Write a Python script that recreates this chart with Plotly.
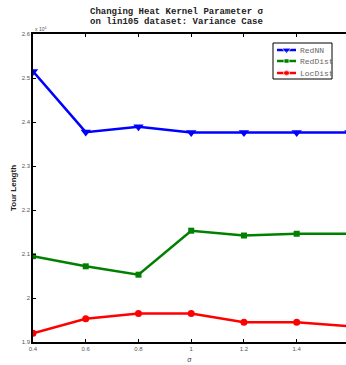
import plotly.graph_objects as go

# Heat kernel parameter sigma and tour lengths (units of 10^4)
sigma = [0.4, 0.6, 0.8, 1.0, 1.2, 1.4, 1.6]
red_nn = [2.515, 2.377, 2.389, 2.376, 2.376, 2.376, 2.376]
red_dist = [2.095, 2.072, 2.053, 2.153, 2.142, 2.146, 2.146]
loc_dist = [1.920, 1.953, 1.965, 1.965, 1.945, 1.945, 1.936]

y_ticks = [1.9, 2.0, 2.1, 2.2, 2.3, 2.4, 2.5, 2.6]
y_tick_text = ["1.9", "2", "2.1", "2.2", "2.3", "2.4", "2.5", "2.6"]
x_ticks = [0.4, 0.6, 0.8, 1.0, 1.2, 1.4, 1.6]
x_tick_text = ["0.4", "0.6", "0.8", "1", "1.2", "1.4", "1.6"]

series = [
    ("RedNN", red_nn, "#0000FF", "triangle-down", 9),
    ("RedDist", red_dist, "#008000", "square", 6),
    ("LocDist", loc_dist, "#FF0000", "circle", 7),
]

W, H = 346, 365
L, R, T, B = 33, 0, 34, 23

fig = go.Figure()
for name, vals, color, symbol, msize in series:
    fig.add_trace(go.Scatter(
        x=sigma, y=vals, name=name, mode="lines+markers",
        line=dict(color=color, width=2.5),
        marker=dict(symbol=symbol, size=msize, color=color),
        showlegend=False,
    ))

# Compact legend box drawn on a pixel-space overlay axis
box_x0, box_x1, box_y0, box_y1 = 273, 332, 43, 79
row_y = [50, 61, 73]
for (name, _, color, symbol, msize), yy in zip(series, row_y):
    fig.add_trace(go.Scatter(
        x=[277, 286.5, 296], y=[yy, yy, yy], xaxis="x2", yaxis="y2",
        mode="lines+markers", line=dict(color=color, width=2.5),
        marker=dict(symbol=symbol, size=[0, msize - 1, 0], color=color),
        showlegend=False, hoverinfo="skip",
    ))
    fig.add_annotation(
        text=name, xref="x2", yref="y2", x=298, y=yy,
        xanchor="left", yanchor="middle", showarrow=False,
        font=dict(family="Liberation Mono", size=8, color="#666666"),
    )
fig.add_shape(type="rect", xref="x2", yref="y2",
              x0=box_x0, x1=box_x1, y0=box_y0, y1=box_y1,
              line=dict(color="black", width=1), fillcolor="rgba(255,255,255,0)",
              layer="above")

tick_font = dict(family="Liberation Sans", size=6, color="#555555")

fig.update_layout(
    width=W, height=H,
    margin=dict(l=L, r=R, t=T, b=B),
    paper_bgcolor="white", plot_bgcolor="white",
    showlegend=False,
    xaxis=dict(
        range=[0.4, 1.587], tickvals=x_ticks, ticktext=x_tick_text,
        showline=True, linecolor="black", linewidth=1.5, mirror="ticks",
        ticks="inside", ticklen=3, tickcolor="black",
        showgrid=False, zeroline=False, tickfont=tick_font,
        title=dict(text="σ", font=dict(family="Liberation Sans", size=7, color="#333333"), standoff=6),
    ),
    yaxis=dict(
        range=[1.9, 2.6], tickvals=y_ticks, ticktext=y_tick_text,
        showline=True, linecolor="black", linewidth=1.5, mirror=False,
        ticks="inside", ticklen=3, tickcolor="black",
        showgrid=False, zeroline=False, tickfont=tick_font,
        title=dict(text="Tour Length", font=dict(family="Liberation Sans", size=8, color="#222222", weight="bold"), standoff=4),
    ),
    xaxis2=dict(range=[L, W - R], overlaying="x", visible=False, fixedrange=True),
    yaxis2=dict(range=[H - B, T], overlaying="y", visible=False, fixedrange=True),
)

title_font = dict(family="Liberation Mono", size=9, color="#222222", weight="bold")
fig.add_annotation(text="Changing Heat Kernel Parameter σ", xref="paper", yref="paper",
                   x=0.46, y=1.0 + (T - 12) / (H - T - B), xanchor="center", yanchor="middle",
                   showarrow=False, font=title_font)
fig.add_annotation(text="on lin105 dataset: Variance Case", xref="paper", yref="paper",
                   x=0.46, y=1.0 + (T - 22) / (H - T - B), xanchor="center", yanchor="middle",
                   showarrow=False, font=title_font)

fig.add_annotation(
    text="x 10<sup>4</sup>", xref="paper", yref="paper", x=0.0, y=1.0,
    xanchor="left", yanchor="bottom", showarrow=False,
    font=dict(family="Liberation Sans", size=5, color="#555555"),
)

fig.write_html("out.html")
